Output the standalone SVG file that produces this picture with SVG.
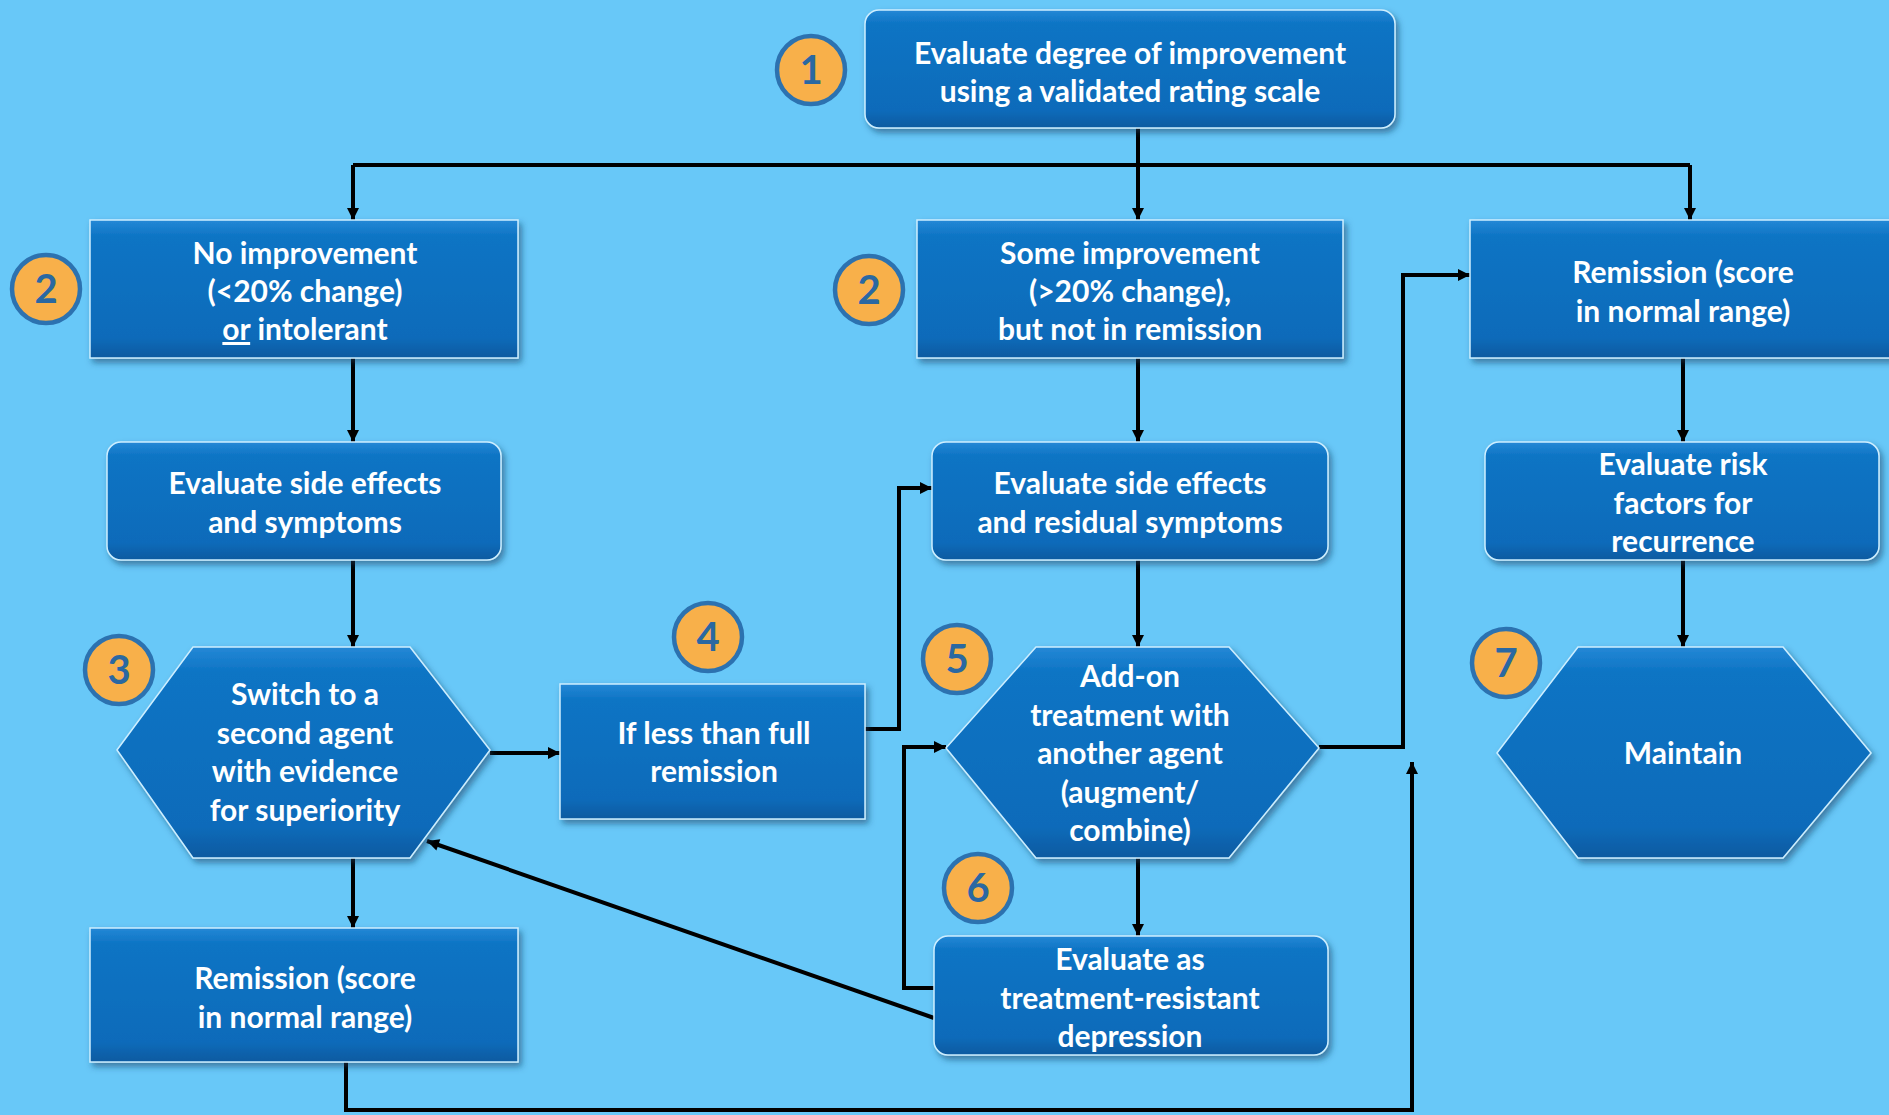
<svg xmlns="http://www.w3.org/2000/svg" width="1889" height="1115" viewBox="0 0 1889 1115">
<style>
.bg{fill:#68c8f8}
.node{fill:url(#g);stroke:#cdeeff;stroke-width:1.5;filter:url(#sh)}
.t{font-family:Lato,"Open Sans","Liberation Sans",sans-serif;font-weight:700;font-size:30px;fill:#ffffff;text-anchor:middle}
.num circle{fill:#f8b04a;stroke:#2c72b0;stroke-width:4.5}
.num text{font-family:Lato,"Open Sans","Liberation Sans",sans-serif;font-weight:700;font-size:40px;fill:#2a68a2;text-anchor:middle}
.c path{fill:none;stroke:#000;stroke-width:4;stroke-linejoin:miter}
.c .a{marker-end:url(#ar)}
</style>
<defs>
<linearGradient id="g" x1="0" y1="0" x2="0" y2="1">
<stop offset="0" stop-color="#2488d6"/>
<stop offset="0.12" stop-color="#0d74c4"/>
<stop offset="0.85" stop-color="#0a6bba"/>
<stop offset="1" stop-color="#075aa0"/>
</linearGradient>
<filter id="sh" x="-10%" y="-10%" width="125%" height="130%">
<feDropShadow dx="3" dy="4" stdDeviation="3" flood-color="#143a60" flood-opacity="0.55"/>
</filter>
<marker id="ar" viewBox="0 0 10 10" refX="10" refY="5" markerWidth="13" markerHeight="12" orient="auto" markerUnits="userSpaceOnUse">
<path d="M0,0 L10,5 L0,10 z" fill="#000"/>
</marker>
</defs>
<rect class="bg" x="0" y="0" width="1889" height="1115"/>

<g id="connectors" class="c">
<path d="M353,165 H1690"/>
<path class="a" d="M1138,128 V220"/>
<path class="a" d="M353,165 V220"/>
<path class="a" d="M1690,165 V220"/>
<path class="a" d="M353,358 V442"/>
<path class="a" d="M1138,358 V442"/>
<path class="a" d="M1683,358 V442"/>
<path class="a" d="M353,560 V647"/>
<path class="a" d="M1138,560 V647"/>
<path class="a" d="M1683,560 V647"/>
<path class="a" d="M490,753 H560"/>
<path class="a" d="M865,729 H899 V488 H932"/>
<path class="a" d="M1138,858 V936"/>
<path class="a" d="M934,988 H904 V747 H946"/>
<path class="a" d="M934,1018 L427,841"/>
<path class="a" d="M1319,747 H1403 V275 H1470"/>
<path class="a" d="M353,858 V928"/>
<path class="a" d="M346,1062 V1110 H1412 V762"/>
</g>

<g id="n1">
<rect class="node" x="865" y="10" width="530" height="118" rx="14"/>
<text class="t" x="1130" y="64">Evaluate degree of improvement</text>
<text class="t" x="1130" y="102">using a validated rating scale</text>
</g>
<g id="n2a">
<rect class="node" x="90" y="220" width="428" height="138"/>
<text class="t" x="305" y="264">No improvement</text>
<text class="t" x="305" y="302">(&lt;20% change)</text>
<text class="t" x="305" y="340"><tspan text-decoration="underline">or</tspan> intolerant</text>
</g>
<g id="n2b">
<rect class="node" x="917" y="220" width="426" height="138"/>
<text class="t" x="1130" y="264">Some improvement</text>
<text class="t" x="1130" y="302">(&gt;20% change),</text>
<text class="t" x="1130" y="340">but not in remission</text>
</g>
<g id="n2c">
<rect class="node" x="1470" y="220" width="430" height="138"/>
<text class="t" x="1683" y="283">Remission (score</text>
<text class="t" x="1683" y="322">in normal range)</text>
</g>
<g id="n3a">
<rect class="node" x="107" y="442" width="394" height="118" rx="14"/>
<text class="t" x="305" y="494">Evaluate side effects</text>
<text class="t" x="305" y="533">and symptoms</text>
</g>
<g id="n3b">
<rect class="node" x="932" y="442" width="396" height="118" rx="14"/>
<text class="t" x="1130" y="494">Evaluate side effects</text>
<text class="t" x="1130" y="533">and residual symptoms</text>
</g>
<g id="n3c">
<rect class="node" x="1485" y="442" width="394" height="118" rx="14"/>
<text class="t" x="1683" y="475">Evaluate risk</text>
<text class="t" x="1683" y="514">factors for</text>
<text class="t" x="1683" y="552">recurrence</text>
</g>
<g id="n4hex">
<polygon class="node" points="117,750 193,647 410,647 490,750 410,858 193,858"/>
<text class="t" x="305" y="705">Switch to a</text>
<text class="t" x="305" y="744">second agent</text>
<text class="t" x="305" y="782">with evidence</text>
<text class="t" x="305" y="821">for superiority</text>
</g>
<g id="n4box">
<rect class="node" x="560" y="684" width="305" height="135"/>
<text class="t" x="714" y="744">If less than full</text>
<text class="t" x="714" y="782">remission</text>
</g>
<g id="n5hex">
<polygon class="node" points="946,748 1036,647 1229,647 1319,748 1229,858 1036,858"/>
<text class="t" x="1130" y="687">Add-on</text>
<text class="t" x="1130" y="726">treatment with</text>
<text class="t" x="1130" y="764">another agent</text>
<text class="t" x="1130" y="803">(augment/</text>
<text class="t" x="1130" y="841">combine)</text>
</g>
<g id="n6">
<rect class="node" x="934" y="936" width="394" height="119" rx="14"/>
<text class="t" x="1130" y="970">Evaluate as</text>
<text class="t" x="1130" y="1009">treatment-resistant</text>
<text class="t" x="1130" y="1047">depression</text>
</g>
<g id="n7">
<rect class="node" x="90" y="928" width="428" height="134"/>
<text class="t" x="305" y="989">Remission (score</text>
<text class="t" x="305" y="1028">in normal range)</text>
</g>
<g id="n8hex">
<polygon class="node" points="1497,753 1578,647 1783,647 1871,753 1783,858 1578,858"/>
<text class="t" x="1683" y="764">Maintain</text>
</g>

<g id="badge1" class="num"><circle cx="811" cy="70" r="34"/><text x="811" y="84">1</text></g>
<g id="badge2a" class="num"><circle cx="46" cy="289" r="34"/><text x="46" y="303">2</text></g>
<g id="badge2b" class="num"><circle cx="869" cy="290" r="34"/><text x="869" y="304">2</text></g>
<g id="badge3" class="num"><circle cx="119" cy="670" r="34"/><text x="119" y="684">3</text></g>
<g id="badge4" class="num"><circle cx="708" cy="637" r="34"/><text x="708" y="651">4</text></g>
<g id="badge5" class="num"><circle cx="957" cy="659" r="34"/><text x="957" y="673">5</text></g>
<g id="badge6" class="num"><circle cx="978" cy="888" r="34"/><text x="978" y="902">6</text></g>
<g id="badge7" class="num"><circle cx="1506" cy="663" r="34"/><text x="1506" y="677">7</text></g>
</svg>
